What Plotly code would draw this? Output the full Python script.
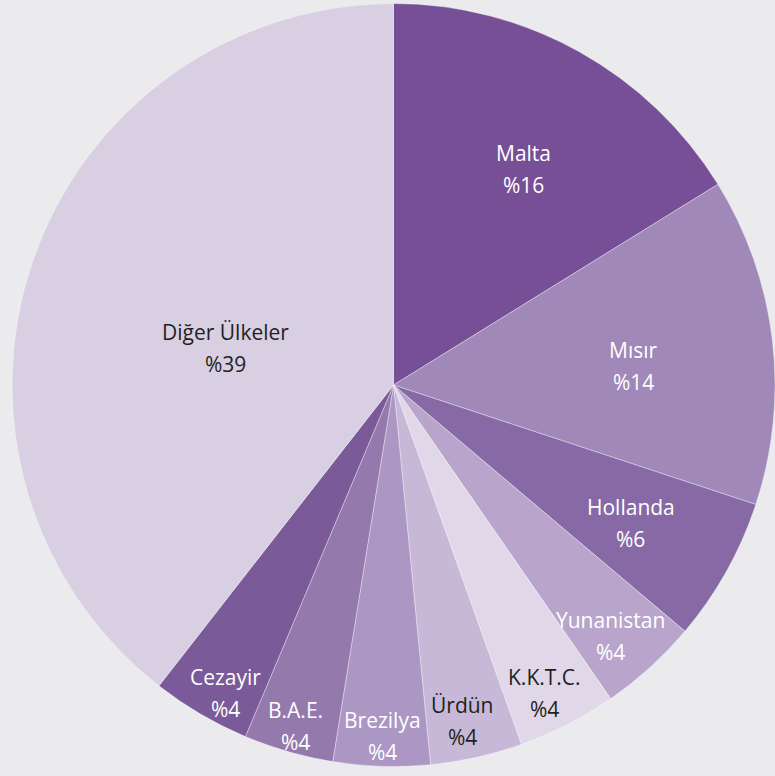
import math
import plotly.graph_objects as go

# ---- data ----
countries = ["Malta", "Mısır", "Hollanda", "Yunanistan", "K.K.T.C.",
             "Ürdün", "Brezilya", "B.A.E.", "Cezayir", "Diğer Ülkeler"]
shares = [16.2, 13.9, 6.1, 4.2, 4.2, 3.9, 4.1, 3.8, 4.2, 39.5]
pct_labels = ["%16", "%14", "%6", "%4", "%4", "%4", "%4", "%4", "%4", "%39"]

# ---- styles ----
colors = ["#774f96", "#a088b8", "#876aa5", "#b9a5cb", "#e0d8e9",
          "#c8b8d8", "#ab96c4", "#9479ac", "#7a5a98", "#d9cfe3"]
text_colors = ["#ffffff", "#ffffff", "#ffffff", "#ffffff", "#231f20",
               "#231f20", "#ffffff", "#ffffff", "#ffffff", "#231f20"]
label_radius = [0.66, 0.63, 0.72, 0.87, 0.90, 0.90, 0.92, 0.93, 0.92, 0.45]
label_angle_shift = [2.0, 2.2, 1.0, 1.5, 1.0, 1.0, 0.0, 0.0, -1.7, -6.4]

W, H = 775, 776
dom_x = [12 / W, 1.0]
dom_y = [9 / H, 773 / H]
bg = "#ebebed"
font_family = "Open Sans, Noto Sans, sans-serif"
font_size = 21

fig = go.Figure(go.Pie(
    labels=countries,
    values=shares,
    sort=False,
    direction="clockwise",
    rotation=0,
    marker=dict(colors=colors, line=dict(color="rgba(255,255,255,0.45)", width=0.8)),
    textinfo="none",
    hoverinfo="label+percent",
    domain=dict(x=dom_x, y=dom_y),
    showlegend=False,
))

# label placement derived from the pie geometry
cx = (dom_x[0] + dom_x[1]) / 2 * W
cy = H - (dom_y[0] + dom_y[1]) / 2 * H
R = min((dom_x[1] - dom_x[0]) * W, (dom_y[1] - dom_y[0]) * H) / 2
total = sum(shares)
cum = 0.0
annotations = []
for name, val, pl, tc, rf, da in zip(countries, shares, pct_labels, text_colors,
                                     label_radius, label_angle_shift):
    mid = (cum + val / 2) / total * 2 * math.pi + math.radians(da)
    cum += val
    px = cx + rf * R * math.sin(mid)
    py = cy - rf * R * math.cos(mid)
    xp, yp = px / W, 1 - py / H
    for txt, ys in ((name, 16), (pl, -16)):
        annotations.append(dict(
            x=xp, y=yp, xref="paper", yref="paper", text=txt, showarrow=False,
            yshift=ys, xanchor="center", yanchor="middle",
            font=dict(family=font_family, size=font_size, color=tc),
        ))

fig.update_layout(
    width=W, height=H,
    margin=dict(l=0, r=0, t=0, b=0),
    paper_bgcolor=bg, plot_bgcolor=bg,
    annotations=annotations,
)

fig.write_html(
    "out.html",
    config={"displayModeBar": False},
    post_script="document.body.style.margin='0';document.body.style.overflow='hidden';"
                "document.body.style.background='%s';" % bg,
)
